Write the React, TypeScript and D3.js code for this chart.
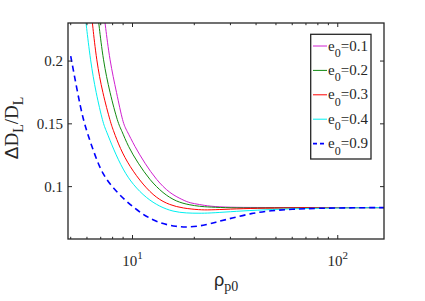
import React from "react";
import * as d3 from "d3";

// e0 = 0.1 .. 0.9 curves, x = rho_p0 (log axis), y = delta D_L / D_L
const x01 = [7.34, 7.75, 8.36, 9.0, 9.35, 10.26, 11.47, 13.08, 15.17, 17.6, 19.0, 21.2, 23.7, 29.7, 40, 60, 100, 168];
const y01 = [0.231, 0.2, 0.175, 0.15, 0.1452, 0.1319, 0.1187, 0.1053, 0.0947, 0.0894, 0.087, 0.0858, 0.0843, 0.0835, 0.0834, 0.0833, 0.0833, 0.0833];

const x02 = [6.84, 7.2, 7.75, 8.51, 8.84, 9.52, 10.64, 12.13, 14.08, 16.35, 19.0, 21.2, 23.7, 30, 40, 60, 100, 168];
const y02 = [0.231, 0.2, 0.175, 0.15, 0.1452, 0.1319, 0.1187, 0.1053, 0.0947, 0.088, 0.0854, 0.0843, 0.0837, 0.0831, 0.083, 0.0831, 0.0833, 0.0833];

const x03 = [6.37, 6.68, 7.14, 7.85, 8.05, 8.7, 9.7, 11.26, 13.08, 15.17, 17.6, 21.2, 23.7, 29.7, 40, 60, 100, 168];
const y03 = [0.231, 0.2, 0.175, 0.15, 0.1452, 0.1303, 0.1159, 0.1014, 0.0908, 0.0854, 0.0828, 0.0815, 0.0814, 0.0821, 0.0828, 0.0831, 0.0833, 0.0833];

const x04 = [5.93, 6.24, 6.63, 7.2, 7.42, 8.1, 9.0, 10.07, 11.69, 13.57, 15.74, 18.3, 21.2, 23.7, 29.7, 40, 58, 80, 120, 168];
const y04 = [0.231, 0.2, 0.175, 0.15, 0.1452, 0.1293, 0.1133, 0.1014, 0.0908, 0.0841, 0.0801, 0.0789, 0.0788, 0.0789, 0.08, 0.0813, 0.0823, 0.0828, 0.0832, 0.0833];

const x09 = [5.0, 5.38, 5.75, 6.2, 6.69, 7.2, 8.05, 9.35, 11.26, 13.57, 16.35, 19.0, 22.9, 26.0, 30.3, 37.9, 47.4, 59.3, 80, 120, 168];
const y09 = [0.204, 0.176, 0.153, 0.1365, 0.1213, 0.1093, 0.0987, 0.088, 0.0774, 0.0708, 0.0681, 0.0676, 0.0695, 0.0721, 0.0748, 0.0788, 0.0809, 0.082, 0.0828, 0.0832, 0.0833];

const legendLabels = ["0.1", "0.2", "0.3", "0.4", "0.9"];
const yTicks = [0.1, 0.15, 0.2];
const yTickLabels = ["0.1", "0.15", "0.2"];
const xMajor = [10, 100];
const xMajorExp = ["1", "2"];
const xMinor = [5, 6, 7, 8, 9, 20, 30, 40, 50, 60, 70, 80, 90];

const series = [
  { xs: x01, ys: y01, color: "#d020d0", dash: "", w: 1 },
  { xs: x02, ys: y02, color: "#108a10", dash: "", w: 1 },
  { xs: x03, ys: y03, color: "#ff0000", dash: "", w: 1 },
  { xs: x04, ys: y04, color: "#00f0f0", dash: "", w: 1 },
  { xs: x09, ys: y09, color: "#0000ff", dash: "6,4", w: 1.6 },
];

const W = 425;
const H = 301;
const L = 68, R = 384, T = 23, B = 239;
const axisColor = "#262626";
const serif = "'Liberation Serif', 'Times New Roman', serif";
const sans = "'Liberation Sans', Arial, sans-serif";

export default function App() {
  const x = d3.scaleLog().domain([4.85, 168]).range([L, R]);
  const y = d3.scaleLinear().domain([0.0583, 0.2303]).range([B, T]);

  const line = d3
    .line<[number, number]>()
    .x((d) => x(d[0]))
    .y((d) => y(d[1]))
    .curve(d3.curveBasis);

  return (
    <svg
      width={W}
      height={H}
      style={{ position: "absolute", left: 0, top: 0, background: "#fff" }}
    >
      <defs>
        <clipPath id="plot">
          <rect x={L} y={T} width={R - L} height={B - T} />
        </clipPath>
      </defs>
      <rect x={0} y={0} width={W} height={H} fill="#fff" />

      <g clipPath="url(#plot)">
        {series.map((s, i) => (
          <path
            key={i}
            d={line(s.xs.map((v, j) => [v, s.ys[j]] as [number, number])) || ""}
            fill="none"
            stroke={s.color}
            strokeWidth={s.w}
            strokeDasharray={s.dash || undefined}
          />
        ))}
      </g>

      {/* ticks */}
      <g stroke={axisColor} strokeWidth={1}>
        {yTicks.map((t) => (
          <g key={t}>
            <line x1={L} x2={L + 4} y1={y(t)} y2={y(t)} />
            <line x1={R} x2={R - 4} y1={y(t)} y2={y(t)} />
          </g>
        ))}
        {xMajor.map((t) => (
          <g key={t}>
            <line x1={x(t)} x2={x(t)} y1={B} y2={B - 4} />
            <line x1={x(t)} x2={x(t)} y1={T} y2={T + 4} />
          </g>
        ))}
        {xMinor.map((t) => (
          <g key={t}>
            <line x1={x(t)} x2={x(t)} y1={B} y2={B - 2.2} />
            <line x1={x(t)} x2={x(t)} y1={T} y2={T + 2.2} />
          </g>
        ))}
      </g>

      <rect
        x={L}
        y={T}
        width={R - L}
        height={B - T}
        fill="none"
        stroke={axisColor}
        strokeWidth={1.3}
      />

      {/* tick labels */}
      <g fontFamily={serif} fontSize={15} fill={axisColor}>
        {yTicks.map((t, i) => (
          <text key={t} x={L - 5} y={y(t)} dy="0.35em" textAnchor="end">
            {yTickLabels[i]}
          </text>
        ))}
        {xMajor.map((t, i) => (
          <text key={t} x={x(t)} y={266} textAnchor="middle">
            10
            <tspan fontSize={11} dy={-7}>
              {xMajorExp[i]}
            </tspan>
          </text>
        ))}
      </g>

      {/* axis labels */}
      <text
        transform={`translate(18,128) rotate(-90)`}
        textAnchor="middle"
        fontFamily={serif}
        fontSize={19}
        fill={axisColor}
      >
        <tspan fontFamily={sans}>Δ</tspan>
        <tspan>D</tspan>
        <tspan fontSize={14} dy={5}>L</tspan>
        <tspan dy={-5}>/D</tspan>
        <tspan fontSize={14} dy={5}>L</tspan>
      </text>
      <text x={226} y={286} textAnchor="middle" fill={axisColor} fontSize={18}>
        <tspan fontFamily={sans}>ρ</tspan>
        <tspan fontFamily={serif} fontSize={14} dy={5}>p0</tspan>
      </text>

      {/* legend */}
      <rect x={310.7} y={34.3} width={60.3} height={124.7} fill="#fff" stroke={axisColor} strokeWidth={1.3} />
      {legendLabels.map((lab, i) => {
        const cy = 46 + i * 24.4;
        const s = series[i];
        return (
          <g key={lab}>
            <line
              x1={313}
              x2={327}
              y1={cy}
              y2={cy}
              stroke={s.color}
              strokeWidth={s.w}
              strokeDasharray={s.dash ? "4,3" : undefined}
            />
            <text x={328} y={cy + 4.5} fontFamily={serif} fontSize={15} fill={axisColor}>
              e
              <tspan fontSize={12} dy={6.5}>0</tspan>
              <tspan dy={-6.5}>={lab}</tspan>
            </text>
          </g>
        );
      })}
    </svg>
  );
}
